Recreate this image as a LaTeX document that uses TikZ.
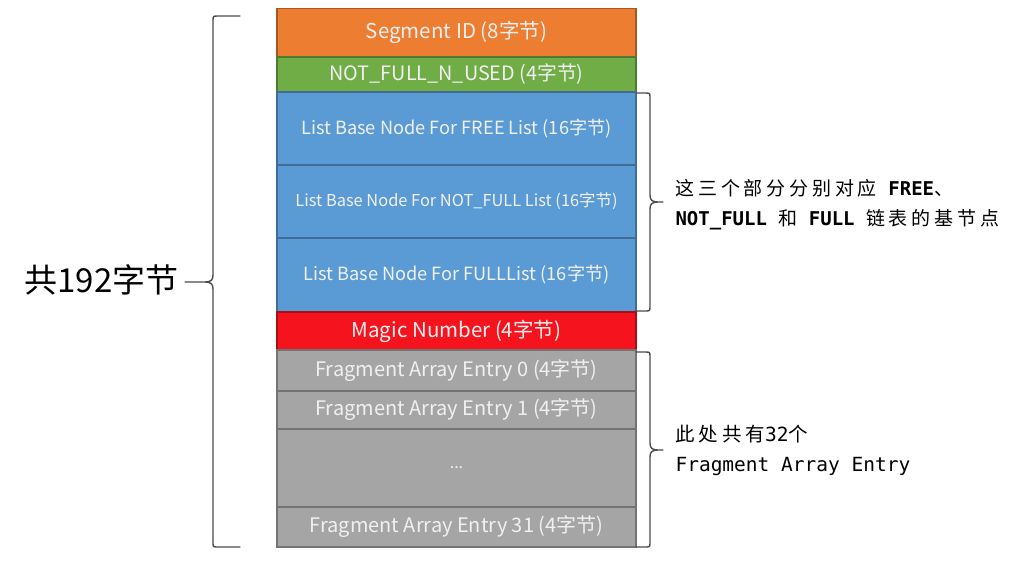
\documentclass[tikz,border=0pt]{standalone}
\usepackage{fontspec}
\usepackage{xcolor}
\usetikzlibrary{positioning}
\setmainfont{Noto Sans CJK SC}
\newfontfamily\zhfont[LetterSpace=20]{Noto Sans CJK SC}
\newfontfamily\enfont{DejaVu Sans Mono}
\definecolor{segcol}{HTML}{ED7D31}
\definecolor{usedcol}{HTML}{70AD47}
\definecolor{listcol}{HTML}{5B9BD5}
\definecolor{magiccol}{HTML}{F5141E}
\definecolor{fragcol}{HTML}{A5A5A5}
% llave: #1 x, #2 arriba, #3 punta, #4 abajo, #5 lado (1 o -1), #6 largo extremos, #7 largo punta
\newcommand{\llave}[7]{%
  \draw[llavestyle] ({#1+(#5)*(#6)},#2) -- ({#1+(#5)*5},#2)
    .. controls ({#1},#2) .. ({#1},{#2+5}) -- ({#1},{#3-7})
    .. controls ({#1},{#3-2}) and ({#1-(#5)*2},#3) .. ({#1-(#5)*8},#3) -- ({#1-(#5)*(#7)},#3)
    ({#1-(#5)*8},#3) .. controls ({#1-(#5)*2},#3) and ({#1},{#3+2}) .. ({#1},{#3+7})
    -- ({#1},{#4-5}) .. controls ({#1},#4) .. ({#1+(#5)*5},#4) -- ({#1+(#5)*(#6)},#4);}

\begin{document}
\begin{tikzpicture}[x=1pt, y=-1pt,
        campo/.style={draw=#1!70!black, fill=#1, line width=1.2pt, rectangle, minimum width=359pt,
          inner sep=0pt, outer sep=0pt, text=white!94!black},
        llavestyle/.style={draw=black!70, line width=1.4pt, line cap=round}]
      \useasboundingbox (0,0) rectangle (1031,566);
      % Campos de la cabecera del segmento
      \node[campo=segcol, minimum height=48.5pt, anchor=north, font=\fontsize{20.5}{22}\selectfont] (seg) at (456.5,8.5) {Segment ID (8字节)};
      \node[campo=usedcol, minimum height=35pt, below=0pt of seg, font=\fontsize{19.8}{22}\selectfont] (nused) {NOT\_FULL\_N\_USED (4字节)};
      % Nodos base de las tres listas
      \node[campo=listcol, minimum height=73pt, below=0pt of nused, font=\fontsize{18.2}{20}\selectfont] (free) {List Base Node For FREE List (16字节)};
      \node[campo=listcol, minimum height=73pt, below=0pt of free, font=\fontsize{16.4}{20}\selectfont] (notfull) {List Base Node For NOT\_FULL List (16字节)};
      \node[campo=listcol, minimum height=74pt, below=0pt of notfull, font=\fontsize{18.2}{20}\selectfont] (full) {List Base Node For FULLList (16字节)};
      \node[campo=magiccol, minimum height=38pt, below=0pt of full, font=\fontsize{20.5}{22}\selectfont] (magic) {Magic Number (4字节)};
      % Entradas del arreglo de fragmentos
      \node[campo=fragcol, minimum height=41pt, below=0pt of magic, font=\fontsize{20}{22}\selectfont] (frag0) {Fragment Array Entry 0 (4字节)};
      \node[campo=fragcol, minimum height=38pt, below=0pt of frag0, font=\fontsize{20}{22}\selectfont] (frag1) {Fragment Array Entry 1 (4字节)};
      \node[campo=fragcol, minimum height=78pt, below=0pt of frag1, font=\fontsize{16}{20}\selectfont] (dots) {...};
      \node[campo=fragcol, minimum height=40pt, below=0pt of dots, font=\fontsize{20}{22}\selectfont] (frag31) {Fragment Array Entry 31 (4字节)};
      % Llave izquierda y total
      \llave{213}{16}{282}{547}{1}{27}{28}
      \node[anchor=east, font=\fontsize{33}{36}\selectfont] (total) at (182,280) {共192字节};
      % Llaves derechas y notas
      \llave{650}{93}{202}{311}{-1}{14}{13}
      \llave{650}{352}{450}{547}{-1}{14}{13}
      \node[anchor=west, align=left, font=\fontsize{19}{30}\selectfont] (nota1) at (672,205)
        {{\zhfont 这三个部分分别对应}{\enfont\bfseries\ FREE}{\zhfont 、}\\
         {\enfont\bfseries NOT\_FULL\ }{\zhfont 和}{\enfont\bfseries\ FULL\ }{\zhfont 链表的基节点}};
      \node[anchor=west, align=left, font=\fontsize{19.5}{30}\selectfont] (nota2) at (672,450)
        {{\zhfont 此处共有}{\enfont 32}{\zhfont 个}\\
         {\enfont Fragment Array Entry}};
    \end{tikzpicture}
\end{document}
